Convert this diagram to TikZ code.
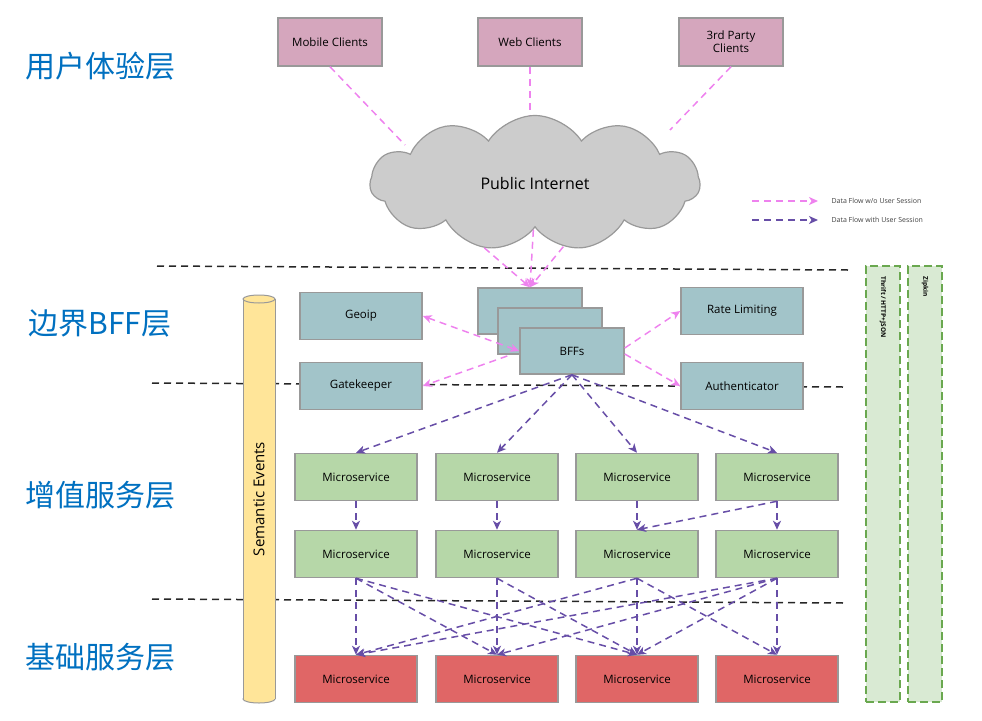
\documentclass[tikz,border=0pt]{standalone}
\usepackage{fontspec}
\setmainfont{Open Sans}
\newfontfamily\cjk{Noto Sans CJK SC}
\usetikzlibrary{shapes.symbols,arrows.meta}
\definecolor{clientpink}{HTML}{D5A6BD}
\definecolor{bffteal}{HTML}{A2C4C9}
\definecolor{msgreen}{HTML}{B6D7A8}
\definecolor{msred}{HTML}{E06666}
\definecolor{evyellow}{HTML}{FFE599}
\definecolor{sidegreen}{HTML}{D9EAD3}
\definecolor{sideborder}{HTML}{6AA84F}
\definecolor{flowpink}{HTML}{EE82EE}
\definecolor{flowpurple}{HTML}{674EA7}
\definecolor{layerblue}{HTML}{0070C0}
\definecolor{edgegray}{HTML}{999999}

\begin{document}
\begin{tikzpicture}[x=1pt,y=-1pt,
    >={Stealth[length=9pt,width=8pt,inset=2.5pt]},
    box/.style={draw=edgegray,line width=1.5pt,minimum width=122pt,minimum height=47pt,
        inner sep=1pt,align=center,font=\fontsize{11.5}{13}\selectfont},
    pinkflow/.style={draw=flowpink,line width=1.5pt,dash pattern=on 7pt off 5pt},
    purpleflow/.style={draw=flowpurple,line width=1.5pt,dash pattern=on 7pt off 5pt},
    layerline/.style={draw=black!85,line width=1.5pt,dash pattern=on 7pt off 5pt},
    sidecol/.style={draw=sideborder,fill=sidegreen,line width=2pt,dash pattern=on 8pt off 4pt,
        minimum width=34pt,minimum height=436pt,inner sep=0pt},
    cylpart/.style={draw=edgegray,fill=evyellow,line width=1pt},
    layerlabel/.style={text=layerblue,font=\cjk\fontsize{30}{33}\selectfont},
    legendtext/.style={anchor=west,text=black!75,font=\fontsize{7}{8}\selectfont}]
    \useasboundingbox (0,0) rectangle (982,720);

    % layer separators
    \coordinate (sepAl) at (157,266); \coordinate (sepAr) at (848,270);
    \coordinate (sepBl) at (152,383); \coordinate (sepBr) at (843,387);
    \coordinate (sepCl) at (152,599); \coordinate (sepCr) at (844,603);
    \draw[layerline] (sepAl)--(sepAr);
    \draw[layerline] (sepBl)--(sepBr);
    \draw[layerline] (sepCl)--(sepCr);

    % layer names
    \node[layerlabel] (lbluser) at (100,66) {用户体验层};
    \node[layerlabel] (lblbff) at (100,323) {边界BFF层};
    \node[layerlabel] (lblvalue) at (100,495) {增值服务层};
    \node[layerlabel] (lblbase) at (100,657) {基础服务层};

    % clients and internet
    \node[box,fill=clientpink,minimum width=104pt,minimum height=48pt] (mobile) at (330,42) {Mobile Clients};
    \node[box,fill=clientpink,minimum width=104pt,minimum height=48pt] (web) at (530,42) {Web Clients};
    \node[box,fill=clientpink,minimum width=104pt,minimum height=48pt] (third) at (731,42) {3rd Party\\Clients};
    \draw[pinkflow] (mobile.south)--(405,145);
    \draw[pinkflow] (web.south)--(530,120);
    \draw[pinkflow] (third.south)--(670,130);
    \node[cloud,cloud puffs=11,cloud puff arc=115,aspect=2.4,draw=edgegray,fill=gray!40,line width=1.2pt,
        minimum width=330pt,minimum height=135pt,font=\fontsize{16}{18}\selectfont] (cloud) at (535,183) {Public Internet};

    % legend
    \coordinate (lgpinka) at (752,201); \coordinate (lgpinkb) at (818,201);
    \coordinate (lgpurpa) at (752,220); \coordinate (lgpurpb) at (818,220);
    \draw[pinkflow,->] (lgpinka)--(lgpinkb);
    \draw[purpleflow,->] (lgpurpa)--(lgpurpb);
    \node[legendtext] (lgpinktxt) at (828,201) {Data Flow w/o User Session};
    \node[legendtext] (lgpurptxt) at (828,220) {Data Flow with User Session};

    % side columns
    \node[sidecol] (thrift) at (883,484) {};
    \node[sidecol] (zipkin) at (925,484) {};
    \node[rotate=-90,anchor=west,font=\bfseries\fontsize{6.5}{7}\selectfont] (thrifttxt) at ([yshift=-8pt]thrift.north) {Thrift / HTTP+JSON};
    \node[rotate=-90,anchor=west,font=\bfseries\fontsize{6.5}{7}\selectfont] (zipkintxt) at ([yshift=-8pt]zipkin.north) {Zipkin};

    % semantic events
    \filldraw[cylpart] (259,699) ellipse [x radius=16pt,y radius=4pt];
    \fill[evyellow] (243,299) rectangle (275,699);
    \draw[edgegray,line width=1pt] (243,299)--(243,699) (275,299)--(275,699);
    \filldraw[cylpart] (259,299) ellipse [x radius=16pt,y radius=4pt];
    \node[rotate=90,font=\fontsize{15}{17}\selectfont] (events) at (259,499) {Semantic Events};

    % edge layer
    \node[box,fill=bffteal,minimum width=104pt,minimum height=46pt] (bffA) at (530,311) {};
    \node[box,fill=bffteal,minimum width=104pt,minimum height=46pt] (bffB) at (550,331) {};
    \node[box,fill=bffteal,minimum width=104pt,minimum height=46pt] (bffC) at (572,351) {BFFs};
    \node[box,fill=bffteal] (geoip) at (361,316) {Geoip};
    \node[box,fill=bffteal] (gate) at (361,386) {Gatekeeper};
    \node[box,fill=bffteal] (rate) at (742,311) {Rate Limiting};
    \node[box,fill=bffteal] (auth) at (742,386) {Authenticator};

    \draw[pinkflow,->] (cloud.232)--(bffA.north);
    \draw[pinkflow,->] (cloud.268)--(bffA.north);
    \draw[pinkflow,->] (cloud.294)--(bffA.north);
    \draw[pinkflow,<->] (geoip.east)--(bffC.west);
    \draw[pinkflow,->] ([xshift=-12pt,yshift=-5pt]bffC.west)--(gate.east);
    \draw[pinkflow,->] ([yshift=3pt]bffC.east)--(rate.west);
    \draw[pinkflow,->] ([yshift=-3pt]bffC.east)--(auth.west);

    % microservices
    \foreach \i/\x in {1/356,2/497,3/637,4/777}{
        \node[box,fill=msgreen] (ma\i) at (\x,477) {Microservice};
        \node[box,fill=msgreen] (mb\i) at (\x,554) {Microservice};
        \node[box,fill=msred] (mc\i) at (\x,679) {Microservice};
    }
    \foreach \i in {1,...,4}{
        \draw[purpleflow,->] (bffC.south)--(ma\i.north);
        \draw[purpleflow,->] (ma\i.south)--(mb\i.north);
    }
    \draw[purpleflow,->] (ma4.south)--(mb3.north);
    \foreach \s/\t in {1/1,1/2,1/3,2/2,2/3,3/1,3/3,3/4,4/1,4/2,4/3,4/4}
        \draw[purpleflow,->] (mb\s.south)--(mc\t.north);
\end{tikzpicture}
\end{document}
